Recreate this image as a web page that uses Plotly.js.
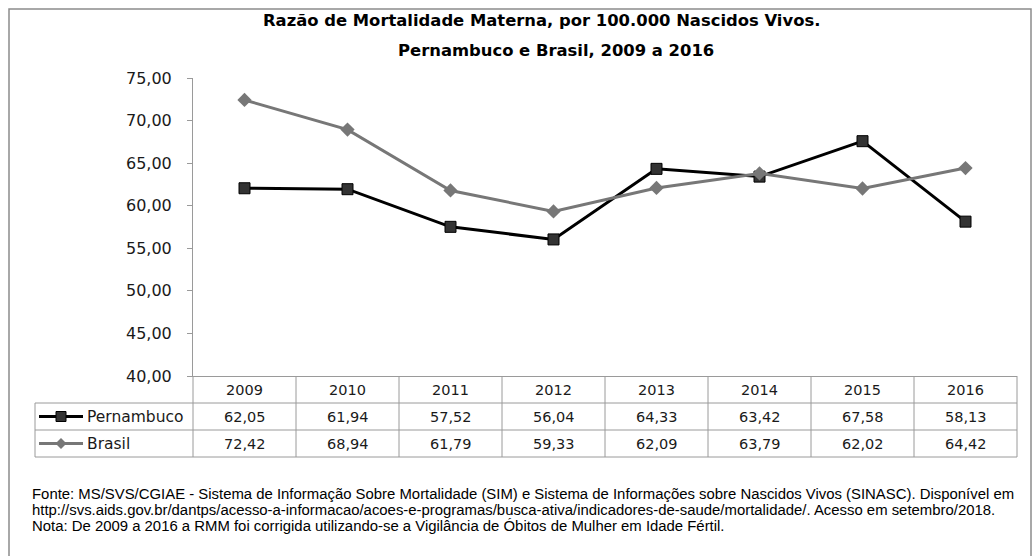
<!DOCTYPE html>
<html>
<head>
<meta charset="utf-8">
<script src="https://cdn.plot.ly/plotly-3.0.1.min.js"></script>
<style>
  html, body { margin: 0; padding: 0; background: #fff; }
  #chart { width: 1033px; height: 556px; }
</style>
</head>
<body>
<div id="chart"></div>
<script>
// ---- data ----
const years = ["2009", "2010", "2011", "2012", "2013", "2014", "2015", "2016"];
const pernambuco = [62.05, 61.94, 57.52, 56.04, 64.33, 63.42, 67.58, 58.13];
const brasil = [72.42, 68.94, 61.79, 59.33, 62.09, 63.79, 62.02, 64.42];
const seriesNames = ["Pernambuco", "Brasil"];
const titleLines = [
  "Razão de Mortalidade Materna, por 100.000 Nascidos Vivos.",
  "Pernambuco e Brasil, 2009 a 2016"
];
const footnotes = [
  "Fonte: MS/SVS/CGIAE - Sistema de Informação Sobre Mortalidade (SIM) e Sistema de Informações sobre Nascidos Vivos (SINASC). Disponível em",
  "http://svs.aids.gov.br/dantps/acesso-a-informacao/acoes-e-programas/busca-ativa/indicadores-de-saude/mortalidade/. Acesso em setembro/2018.",
  "Nota: De 2009 a 2016 a RMM foi corrigida utilizando-se a Vigilância de Óbitos de Mulher em Idade Fértil."
];

// ---- geometry (pixels) ----
const W = 1033, H = 556;
const plotL = 193, plotR = 1017, plotT = 78, plotB = 376;
const rowH = 27;
const tableL = 35;
const px = x => x / W;
const py = y => 1 - y / H;

const PCOL = "#000000", PMARK = "#333333";
const BCOL = "#777777";
const GRID = "#9a9a9a";
const TXT = "#1a1a1a";
const FONT = "DejaVu Sans, Verdana, sans-serif";

const traces = [
  {
    x: years, y: pernambuco, name: seriesNames[0], type: "scatter", mode: "lines+markers",
    line: { color: PCOL, width: 3 },
    marker: { symbol: "square", size: 11, color: PMARK, line: { color: "#000", width: 1 } },
    hoverinfo: "skip", cliponaxis: false
  },
  {
    x: years, y: brasil, name: seriesNames[1], type: "scatter", mode: "lines+markers",
    line: { color: BCOL, width: 3 },
    marker: { symbol: "diamond", size: 11, color: BCOL, line: { width: 0 } },
    hoverinfo: "skip", cliponaxis: false
  }
];

const shapes = [];
const annotations = [];

// outer frame
shapes.push({ type: "rect", xref: "paper", yref: "paper", x0: px(9), x1: px(1031), y0: py(9), y1: py(600),
  line: { color: "#8c8c8c", width: 1.5 }, fillcolor: "rgba(0,0,0,0)", layer: "below" });

// table grid
const colW = (plotR - plotL) / years.length;
const rowYs = [plotB, plotB + rowH, plotB + 2 * rowH, plotB + 3 * rowH];
for (let i = 1; i < rowYs.length; i++) {
  shapes.push({ type: "line", xref: "paper", yref: "paper", x0: px(tableL), x1: px(plotR), y0: py(rowYs[i]), y1: py(rowYs[i]),
    line: { color: GRID, width: 1 } });
}
for (let i = 0; i <= years.length; i++) {
  const xx = plotL + i * colW;
  shapes.push({ type: "line", xref: "paper", yref: "paper", x0: px(xx), x1: px(xx), y0: py(plotB), y1: py(rowYs[3]),
    line: { color: GRID, width: 1 } });
}
shapes.push({ type: "line", xref: "paper", yref: "paper", x0: px(tableL), x1: px(tableL), y0: py(rowYs[1]), y1: py(rowYs[3]),
  line: { color: GRID, width: 1 } });

// table text
const fmt = v => v.toFixed(2).replace(".", ",");
const cellFont = { family: FONT, size: 14.5, color: TXT };
years.forEach((yr, i) => {
  const cx = px(plotL + (i + 0.5) * colW);
  annotations.push({ xref: "paper", yref: "paper", x: cx, y: py(plotB + rowH / 2), text: yr, showarrow: false,
    xanchor: "center", yanchor: "middle", font: cellFont });
  annotations.push({ xref: "paper", yref: "paper", x: cx, y: py(plotB + rowH * 1.5), text: fmt(pernambuco[i]), showarrow: false,
    xanchor: "center", yanchor: "middle", font: cellFont });
  annotations.push({ xref: "paper", yref: "paper", x: cx, y: py(plotB + rowH * 2.5), text: fmt(brasil[i]), showarrow: false,
    xanchor: "center", yanchor: "middle", font: cellFont });
});

// legend keys in table
const keyX0 = 39, keyX1 = 83, keyC = 61;
[[PCOL, "square"], [BCOL, "diamond"]].forEach((k, r) => {
  const cy = plotB + rowH * (1.5 + r);
  shapes.push({ type: "line", xref: "paper", yref: "paper", x0: px(keyX0), x1: px(keyX1), y0: py(cy), y1: py(cy),
    line: { color: k[0], width: 3 } });
  if (k[1] === "square") {
    shapes.push({ type: "rect", xref: "paper", yref: "paper", x0: px(keyC - 5), x1: px(keyC + 5), y0: py(cy - 5), y1: py(cy + 5),
      line: { color: "#000", width: 1 }, fillcolor: PMARK });
  } else {
    const p = `M ${px(keyC - 5.5)} ${py(cy)} L ${px(keyC)} ${py(cy - 5.5)} L ${px(keyC + 5.5)} ${py(cy)} L ${px(keyC)} ${py(cy + 5.5)} Z`;
    shapes.push({ type: "path", xref: "paper", yref: "paper", path: p, line: { width: 0 }, fillcolor: BCOL });
  }
  annotations.push({ xref: "paper", yref: "paper", x: px(85), y: py(cy), text: seriesNames[r], showarrow: false,
    xanchor: "left", yanchor: "middle", font: { family: FONT, size: 15.5, color: TXT } });
});

// title
annotations.push({ xref: "paper", yref: "paper", x: px(541), y: py(20), text: "<b>" + titleLines[0] + "</b>", showarrow: false,
  xanchor: "center", yanchor: "middle", font: { family: FONT, size: 16.4, color: "#000" } });
annotations.push({ xref: "paper", yref: "paper", x: px(556), y: py(50), text: "<b>" + titleLines[1] + "</b>", showarrow: false,
  xanchor: "center", yanchor: "middle", font: { family: FONT, size: 16.4, color: "#000" } });

// footnotes
const footY = [494, 510, 526];
footnotes.forEach((t, i) => {
  annotations.push({ xref: "paper", yref: "paper", x: px(30), y: py(footY[i]), text: t, showarrow: false,
    xanchor: "left", yanchor: "middle", font: { family: "Liberation Sans Narrow, Arial Narrow, sans-serif", size: 14.9, color: "#000" } });
});

const layout = {
  width: W, height: H,
  margin: { l: 0, r: 0, t: 0, b: 0, pad: 0 },
  paper_bgcolor: "#fff", plot_bgcolor: "#fff",
  showlegend: false,
  separators: ",.",
  xaxis: {
    domain: [px(plotL), px(plotR)], type: "category", range: [-0.5, years.length - 0.5],
    showticklabels: false, ticks: "", showgrid: false, zeroline: false,
    showline: true, linecolor: GRID, linewidth: 1, fixedrange: true
  },
  yaxis: {
    domain: [py(plotB), py(plotT)], range: [40, 75], dtick: 5, tick0: 40, tickformat: ".2f",
    showgrid: false, zeroline: false, showline: true, linecolor: GRID, linewidth: 1,
    ticks: "outside", ticklen: 5, tickcolor: GRID, ticklabelstandoff: 12,
    tickfont: { family: FONT, size: 16, color: TXT }, fixedrange: true
  },
  shapes: shapes,
  annotations: annotations
};

Plotly.newPlot("chart", traces, layout, { displayModeBar: false, staticPlot: true });
</script>
</body>
</html>
